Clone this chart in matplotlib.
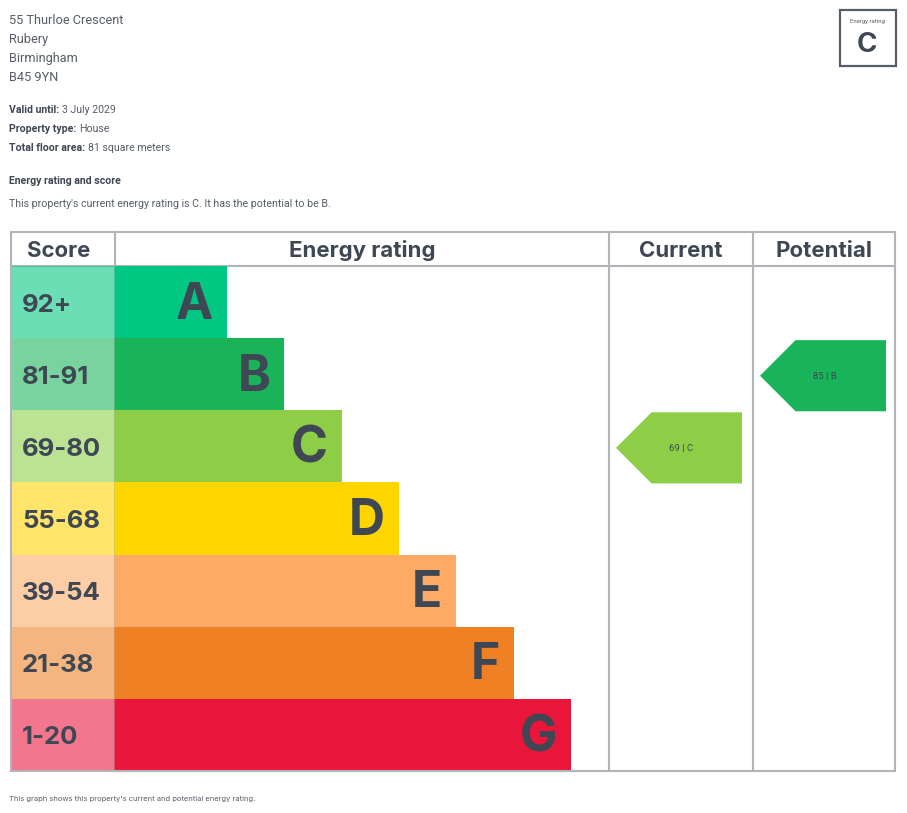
import matplotlib
matplotlib.use("Agg")
import matplotlib.pyplot as plt
from matplotlib.patches import Polygon, Rectangle

plt.rcParams['font.family'] = ['Roboto', 'DejaVu Sans']
HEAD = ['Inter', 'DejaVu Sans']

# data
address = ["55 Thurloe Crescent", "Rubery", "Birmingham", "B45 9YN"]
details = [("Valid until:", "3 July 2029"),
           ("Property type:", "House"),
           ("Total floor area:", "81 square meters")]
bands = ["A", "B", "C", "D", "E", "F", "G"]
score_ranges = ["92+", "81-91", "69-80", "55-68", "39-54", "21-38", "1-20"]
band_colors = ["#00c781", "#19b459", "#8dce46", "#ffd500", "#fcaa65", "#ef8023", "#e9153b"]
current_score, current_band = 69, "C"
potential_score, potential_band = 85, "B"

DARK = "#3e4753"
GREY = "#565d66"
LINE = "#b1b4b8"

fig = plt.figure(figsize=(9.07, 8.13), dpi=100)
ax = fig.add_axes([0, 0, 1, 1])
ax.set_xlim(0, 907)
ax.set_ylim(813, 0)
ax.axis('off')

# header text
for i, line in enumerate(address):
    ax.text(9, 20.5 + i * 19, line, fontsize=9.2, color=GREY, va='center')
fig.canvas.draw()
for i, (lab, val) in enumerate(details):
    t = ax.text(9, 110 + i * 19, lab, fontsize=7.6, color=DARK,
                fontweight='bold', va='center')
    bb = t.get_window_extent(renderer=fig.canvas.get_renderer())
    x_end = ax.transData.inverted().transform((bb.x1, 0))[0]
    ax.text(x_end + 3, 110 + i * 19, val, fontsize=7.6, color=GREY, va='center')
ax.text(9, 181, "Energy rating and score", fontsize=7.6, color=DARK,
        fontweight='bold', va='center')
ax.text(9, 204, "This property's current energy rating is %s. It has the potential to be %s."
        % (current_band, potential_band), fontsize=7.7, color=GREY, va='center')

# rating box top right
ax.add_patch(Rectangle((839.5, 10), 56, 56, fill=False, ec=GREY, lw=1.6))
ax.text(867, 21, "Energy rating", fontsize=4.3, color=GREY, ha='center', va='center')
ax.text(867, 45, current_band, fontsize=20, color=DARK, fontweight='bold',
        ha='center', va='center', family=HEAD)

# table
top, head_bot, bottom = 232, 266, 771
left, col1, col2, col3, right = 11, 115, 609, 753, 895
row_h = (bottom - head_bot) / len(bands)
centers = [head_bot + row_h * (i + 0.5) for i in range(len(bands))]

ax.barh(centers, col1 - left, left=left, height=row_h, color=band_colors,
        alpha=0.58, lw=0, zorder=2)
unit = 57.3
widths = [(i + 2) * unit - 2.5 for i in range(len(bands))]
ax.barh(centers, widths, left=col1, height=row_h, color=band_colors, lw=0, zorder=2)

for c, rng, band, w in zip(centers, score_ranges, bands, widths):
    ax.text(22, c + 3, rng, fontsize=18.5, fontweight='bold', color=DARK,
            va='center', ha='left', zorder=3, family=HEAD)
    ax.text(col1 + w - 14, c + 3, band, fontsize=36, fontweight='bold', color=DARK,
            va='center', ha='right', zorder=3, family=HEAD)

for x in (col1, col2, col3):
    ax.plot([x, x], [top, bottom], color=LINE, lw=1.5, zorder=1)
ax.plot([left, right], [head_bot, head_bot], color=LINE, lw=1.5, zorder=1)
ax.add_patch(Rectangle((left, top), right - left, bottom - top, fill=False,
                       ec=LINE, lw=1.5, zorder=4))

headers = ["Score", "Energy rating", "Current", "Potential"]
hx = [59, (col1 + col2) / 2, (col2 + col3) / 2, (col3 + right) / 2]
for x, h in zip(hx, headers):
    ax.text(x, 250.5, h, fontsize=16, fontweight='bold', color=DARK,
            ha='center', va='center', family=HEAD)


def arrow(x0, x1, score, band):
    i = bands.index(band)
    y0 = head_bot + row_h * i + 2
    y1 = y0 + row_h - 1
    mid = (y0 + y1) / 2
    notch = x0 + (y1 - y0) / 2
    ax.add_patch(Polygon([(x0, mid), (notch, y0), (x1, y0), (x1, y1), (notch, y1)],
                         closed=True, fc=band_colors[i], ec='none', zorder=2))
    ax.text((x0 + x1) / 2 + 2, mid + 1, "%d | %s" % (score, band), fontsize=6.8,
            color=DARK, ha='center', va='center', zorder=3)


arrow(616, 742, current_score, current_band)
arrow(760, 886, potential_score, potential_band)

ax.text(9, 799, "This graph shows this property's current and potential energy rating.",
        fontsize=5.45, color=GREY, va='center', family=HEAD)

fig.savefig("out.png", dpi=100)
